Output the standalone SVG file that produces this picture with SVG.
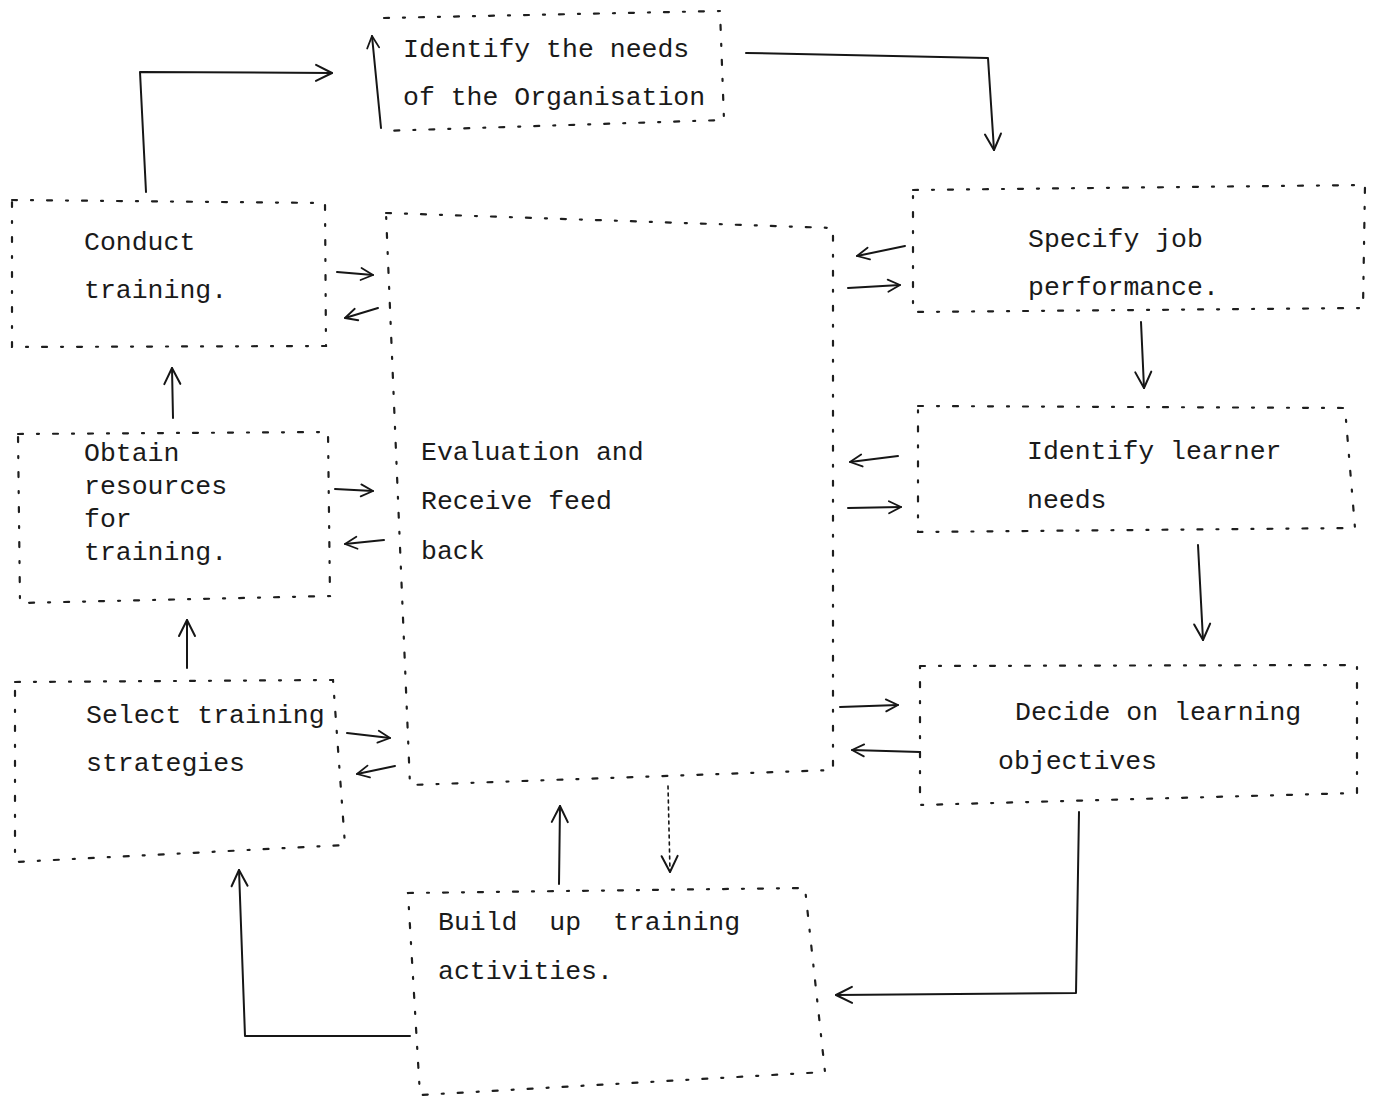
<svg xmlns="http://www.w3.org/2000/svg" width="1373" height="1098" viewBox="0 0 1373 1098">
  <defs>
    <style>
      .box { fill: none; stroke: #1e1e1e; stroke-width: 2.2; stroke-linecap: round; stroke-dasharray: 5 14 2 14; }
      .lbl { font-family: "Liberation Mono", "DejaVu Sans Mono", monospace; font-size: 26.5px; fill: #1a1a1a; white-space: pre; }
      .wire { fill: none; stroke: #161616; stroke-width: 2; stroke-linecap: round; stroke-linejoin: round; }
      .dotted { stroke-dasharray: 3 4; stroke-width: 1.6; }
    </style>
    <marker id="head" markerUnits="userSpaceOnUse" markerWidth="30" markerHeight="30" refX="16" refY="8" orient="auto" overflow="visible">
      <path d="M0,0 L16,8 L0,16" fill="none" stroke="#161616" stroke-width="2" stroke-linecap="round" stroke-linejoin="round"/>
    </marker>
    <marker id="tip" markerUnits="userSpaceOnUse" markerWidth="20" markerHeight="20" refX="12" refY="6" orient="auto" overflow="visible">
      <path d="M0,0 L12,6 L0,12" fill="none" stroke="#161616" stroke-width="1.8" stroke-linecap="round" stroke-linejoin="round"/>
    </marker>
  </defs>
  <rect width="1373" height="1098" fill="#ffffff"/>

  <!-- process steps -->
  <g id="identify-needs">
    <path class="box" d="M384,18 L720,11 L724,120 L382,131"/>
    <text class="lbl" x="403" y="57">Identify the needs</text>
    <text class="lbl" x="403" y="105">of the Organisation</text>
  </g>

  <g id="conduct-training">
    <path class="box" d="M12,200 L325,203 L326,346 L12,347 Z"/>
    <text class="lbl" x="84" y="250">Conduct</text>
    <text class="lbl" x="84" y="298">training.</text>
  </g>

  <g id="obtain-resources">
    <path class="box" d="M18,434 L328,432 L330,596 L20,603 Z"/>
    <text class="lbl" x="84" y="461">Obtain</text>
    <text class="lbl" x="84" y="494">resources</text>
    <text class="lbl" x="84" y="527">for</text>
    <text class="lbl" x="84" y="560">training.</text>
  </g>

  <g id="select-strategies">
    <path class="box" d="M15,682 L333,680 L345,845 L15,862 Z"/>
    <text class="lbl" x="86" y="723">Select training</text>
    <text class="lbl" x="86" y="771">strategies</text>
  </g>

  <g id="evaluation">
    <path class="box" d="M386,213 L833,228 L833,770 L410,785 L386,213"/>
    <text class="lbl" x="421" y="460">Evaluation and</text>
    <text class="lbl" x="421" y="509">Receive feed</text>
    <text class="lbl" x="421" y="559">back</text>
  </g>

  <g id="specify-performance">
    <path class="box" d="M913,190 L1365,185 L1363,308 L913,312 Z"/>
    <text class="lbl" x="1028" y="247">Specify job</text>
    <text class="lbl" x="1028" y="295">performance.</text>
  </g>

  <g id="learner-needs">
    <path class="box" d="M918,406 L1345,408 L1355,528 L918,532 Z"/>
    <text class="lbl" x="1027" y="459">Identify learner</text>
    <text class="lbl" x="1027" y="508">needs</text>
  </g>

  <g id="learning-objectives">
    <path class="box" d="M920,666 L1357,665 L1357,793 L920,805 Z"/>
    <text class="lbl" x="1015" y="720">Decide on learning</text>
    <text class="lbl" x="998" y="769">objectives</text>
  </g>

  <g id="training-activities">
    <path class="box" d="M408,893 L805,888 L825,1072 L420,1095 Z"/>
    <text class="lbl" x="438" y="930">Build  up  training</text>
    <text class="lbl" x="438" y="979">activities.</text>
  </g>

  <!-- connectors -->
  <g id="connectors">
    <path class="wire" d="M146,192 L140,72 L332,73" marker-end="url(#head)"/>
    <path class="wire" d="M381,128 L372,36" marker-end="url(#tip)"/>
    <path class="wire" d="M746,53 L988,58 L994,150" marker-end="url(#head)"/>
    <path class="wire" d="M1141,322 L1144,388" marker-end="url(#head)"/>
    <path class="wire" d="M1198,545 L1203,640" marker-end="url(#head)"/>
    <path class="wire" d="M1079,812 L1076,993 L836,995" marker-end="url(#head)"/>
    <path class="wire" d="M410,1036 L245,1036 L239,870" marker-end="url(#head)"/>
    <path class="wire" d="M559,884 L560,806" marker-end="url(#head)"/>
    <path class="wire dotted" d="M668,786 L670,872" marker-end="url(#head)"/>
    <path class="wire" d="M173,418 L172,368" marker-end="url(#head)"/>
    <path class="wire" d="M187,668 L187,620" marker-end="url(#head)"/>

    <!-- exchanges with the evaluation box -->
    <path class="wire" d="M337,272 L373,275" marker-end="url(#tip)"/>
    <path class="wire" d="M378,308 L345,318" marker-end="url(#tip)"/>
    <path class="wire" d="M335,489 L373,491" marker-end="url(#tip)"/>
    <path class="wire" d="M384,540 L345,544" marker-end="url(#tip)"/>
    <path class="wire" d="M347,733 L390,738" marker-end="url(#tip)"/>
    <path class="wire" d="M395,766 L357,774" marker-end="url(#tip)"/>
    <path class="wire" d="M905,246 L857,256" marker-end="url(#tip)"/>
    <path class="wire" d="M848,288 L900,285" marker-end="url(#tip)"/>
    <path class="wire" d="M898,456 L850,462" marker-end="url(#tip)"/>
    <path class="wire" d="M848,508 L901,507" marker-end="url(#tip)"/>
    <path class="wire" d="M840,707 L898,705" marker-end="url(#tip)"/>
    <path class="wire" d="M920,752 L852,750" marker-end="url(#tip)"/>
  </g>
</svg>
